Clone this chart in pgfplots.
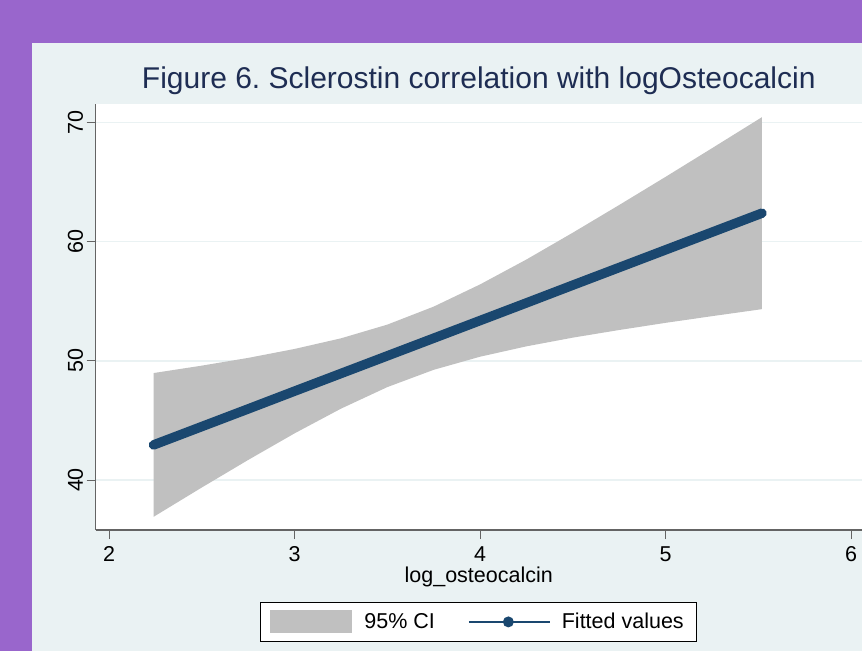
\documentclass[border=0pt]{standalone}
\usepackage{fontspec}
\setmainfont{Liberation Sans}
\usepackage{pgfplots}
\pgfplotsset{compat=1.18}

\definecolor{framec}{RGB}{153,102,204}
\definecolor{bgc}{RGB}{234,242,243}
\definecolor{titlec}{RGB}{30,45,83}
\definecolor{fitc}{RGB}{26,71,111}
\definecolor{cic}{RGB}{192,192,192}
\definecolor{axc}{RGB}{100,100,100}
\definecolor{gridc}{RGB}{234,242,243}

\newcommand{\lbl}{\fontsize{21.5}{21.5}\selectfont}
\frenchspacing

\begin{document}
\begin{tikzpicture}
\useasboundingbox (0pt,0pt) rectangle (862pt,-651pt);
\fill[framec] (0pt,0pt) rectangle (862pt,-651pt);
\fill[bgc] (32pt,-43pt) rectangle (862pt,-651pt);
\begin{axis}[
    at={(95.5pt,-530pt)}, anchor=south west,
    scale only axis,
    width=766.5pt, height=426pt,
    xmin=1.9272, xmax=6.0593,
    ymin=35.806, ymax=71.535,
    xtick={2,3,4,5,6},
    ytick={40,50,60,70},
    axis lines=left,
    axis line style={-, axc, line width=1.3pt},
    tick align=outside,
    major tick length=9pt,
    tick style={axc, line width=1pt},
    ymajorgrids,
    grid style={gridc, line width=1.5pt},
    axis background/.style={fill=white},
    tick label style={font=\lbl, black},
    /pgf/number format/assume math mode=true,
    yticklabel style={rotate=90, anchor=south},
    xticklabel style={yshift=-4pt},
    xlabel={log\_osteocalcin},
    xlabel style={font=\lbl, at={(axis description cs:0.5,0)}, anchor=base, yshift=-52pt},
    title={Figure 6. Sclerostin correlation with logOsteocalcin},
    title style={font=\fontsize{30}{30}\selectfont, color=titlec, at={(axis description cs:0.5,1)}, anchor=base, yshift=10pt},
    legend columns=2,
    legend style={at={(0.5,-0.169)}, anchor=north, draw=black, line width=0.8pt, fill=white,
        font=\lbl, inner xsep=7pt, inner ysep=8pt,
        nodes={inner xsep=6pt, inner ysep=0pt},
        /tikz/every even column/.append style={column sep=27pt}},
]
% 95% CI: upper bound left to right, then lower bound right to left
\addplot[fill=cic, draw=none,
    legend image code/.code={\path[draw=none, fill=none] (-2.7pt,0pt) -- (88pt,0pt);
        \fill[cic, draw=none] (0pt,-11.5pt) rectangle (82pt,11.5pt);}]
    coordinates {
    (2.24,48.97) (2.50,49.59) (2.75,50.24) (3.00,50.99) (3.25,51.88)
    (3.50,53.03) (3.75,54.54) (4.00,56.40) (4.25,58.49) (4.50,60.74)
    (4.75,63.06) (5.00,65.42) (5.25,67.82) (5.52,70.43)
    (5.52,54.33) (5.25,53.74) (5.00,53.18) (4.75,52.58) (4.50,51.94)
    (4.25,51.21) (4.00,50.34) (3.75,49.24) (3.50,47.79) (3.25,45.98)
    (3.00,43.91) (2.75,41.68) (2.50,39.37) (2.24,36.91)
    } -- cycle;
\addlegendentry{95\% CI}
% fitted values
\addplot[fitc, line width=9.5pt, line cap=round,
    legend image code/.code={\path[draw=none, fill=none] (0pt,-11.5pt) -- (87pt,11.5pt);
        \draw[fitc, line width=1.8pt, line cap=butt] (0pt,0pt) -- (81pt,0pt);
        \fill[fitc, draw=none] (39.5pt,0pt) circle (5.5pt);}]
    coordinates {
    (2.24,42.94) (2.50,44.48) (2.75,45.96) (3.00,47.45) (3.25,48.93)
    (3.50,50.41) (3.75,51.89) (4.00,53.37) (4.25,54.85) (4.50,56.34)
    (4.75,57.82) (5.00,59.30) (5.25,60.78) (5.52,62.38)
    };
\addlegendentry{Fitted values}
\end{axis}
\end{tikzpicture}
\end{document}
